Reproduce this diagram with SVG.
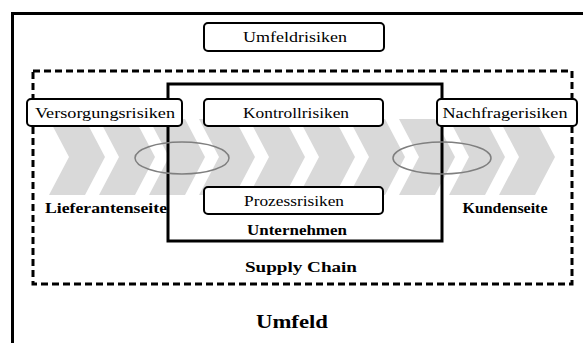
<svg xmlns="http://www.w3.org/2000/svg" width="583" height="343" viewBox="0 0 583 343">
<defs>
<style>
.box{fill:#fff;stroke:#000;stroke-width:2}
.lbl{font-family:"Liberation Serif","Times New Roman",serif;font-size:15px;fill:#000;text-anchor:middle}
.bold{font-family:"Liberation Serif","Times New Roman",serif;font-size:15px;font-weight:bold;fill:#000;text-anchor:middle}
.chev{fill:#d9d9d9}
.ell{fill:none;stroke:#7f7f7f;stroke-width:1.5}
</style>
<polygon id="chev" class="chev" points="-20,-38 0,0 -20,38 -56,38 -36,0 -56,-38"/>
</defs>
<rect width="583" height="343" fill="#fff"/>
<g id="umfeld">
<rect x="12.5" y="13.5" width="620" height="400" fill="none" stroke="#000" stroke-width="3"/>
<text class="bold" x="292" y="328" textLength="72" lengthAdjust="spacingAndGlyphs" style="font-size:18px">Umfeld</text>
</g>
<g id="chevrons">
<use href="#chev" x="105" y="157"/>
<use href="#chev" x="155" y="157"/>
<use href="#chev" x="205" y="157"/>
<use href="#chev" x="255" y="157"/>
<use href="#chev" x="305" y="157"/>
<use href="#chev" x="355" y="157"/>
<use href="#chev" x="405" y="157"/>
<use href="#chev" x="455" y="157"/>
<use href="#chev" x="505" y="157"/>
<use href="#chev" x="555" y="157"/>
</g>
<g id="supply-chain">
<rect x="33" y="71" width="539" height="213" fill="none" stroke="#000" stroke-width="3" stroke-dasharray="7,4"/>
<text class="bold" x="301" y="272" textLength="112" lengthAdjust="spacingAndGlyphs">Supply Chain</text>
</g>
<g id="unternehmen">
<rect x="168" y="84" width="274" height="157" fill="none" stroke="#000" stroke-width="3"/>
<text class="bold" x="297" y="235" textLength="100" lengthAdjust="spacingAndGlyphs">Unternehmen</text>
</g>
<g id="connectors">
<ellipse class="ell" cx="182" cy="158" rx="47" ry="16"/>
<ellipse class="ell" cx="442" cy="158" rx="49" ry="16"/>
</g>
<g id="lieferantenseite">
<text class="bold" x="106" y="213" textLength="122" lengthAdjust="spacingAndGlyphs">Lieferantenseite</text>
</g>
<g id="kundenseite">
<text class="bold" x="505" y="213" textLength="85" lengthAdjust="spacingAndGlyphs">Kundenseite</text>
</g>
<g id="umfeldrisiken">
<rect class="box" x="204" y="23" width="180" height="28" rx="4"/>
<text class="lbl" x="295" y="42" textLength="104" lengthAdjust="spacingAndGlyphs">Umfeldrisiken</text>
</g>
<g id="versorgungsrisiken">
<rect class="box" x="27" y="99" width="155" height="27" rx="4"/>
<text class="lbl" x="105" y="118" textLength="140" lengthAdjust="spacingAndGlyphs">Versorgungsrisiken</text>
</g>
<g id="kontrollrisiken">
<rect class="box" x="204" y="99" width="179" height="27" rx="4"/>
<text class="lbl" x="296" y="118" textLength="106" lengthAdjust="spacingAndGlyphs">Kontrollrisiken</text>
</g>
<g id="nachfragerisiken">
<rect class="box" x="437" y="99" width="140" height="27" rx="4"/>
<text class="lbl" x="505" y="118" textLength="125" lengthAdjust="spacingAndGlyphs">Nachfragerisiken</text>
</g>
<g id="prozessrisiken">
<rect class="box" x="204" y="187" width="179" height="27" rx="4"/>
<text class="lbl" x="294" y="206" textLength="100" lengthAdjust="spacingAndGlyphs">Prozessrisiken</text>
</g>
</svg>
